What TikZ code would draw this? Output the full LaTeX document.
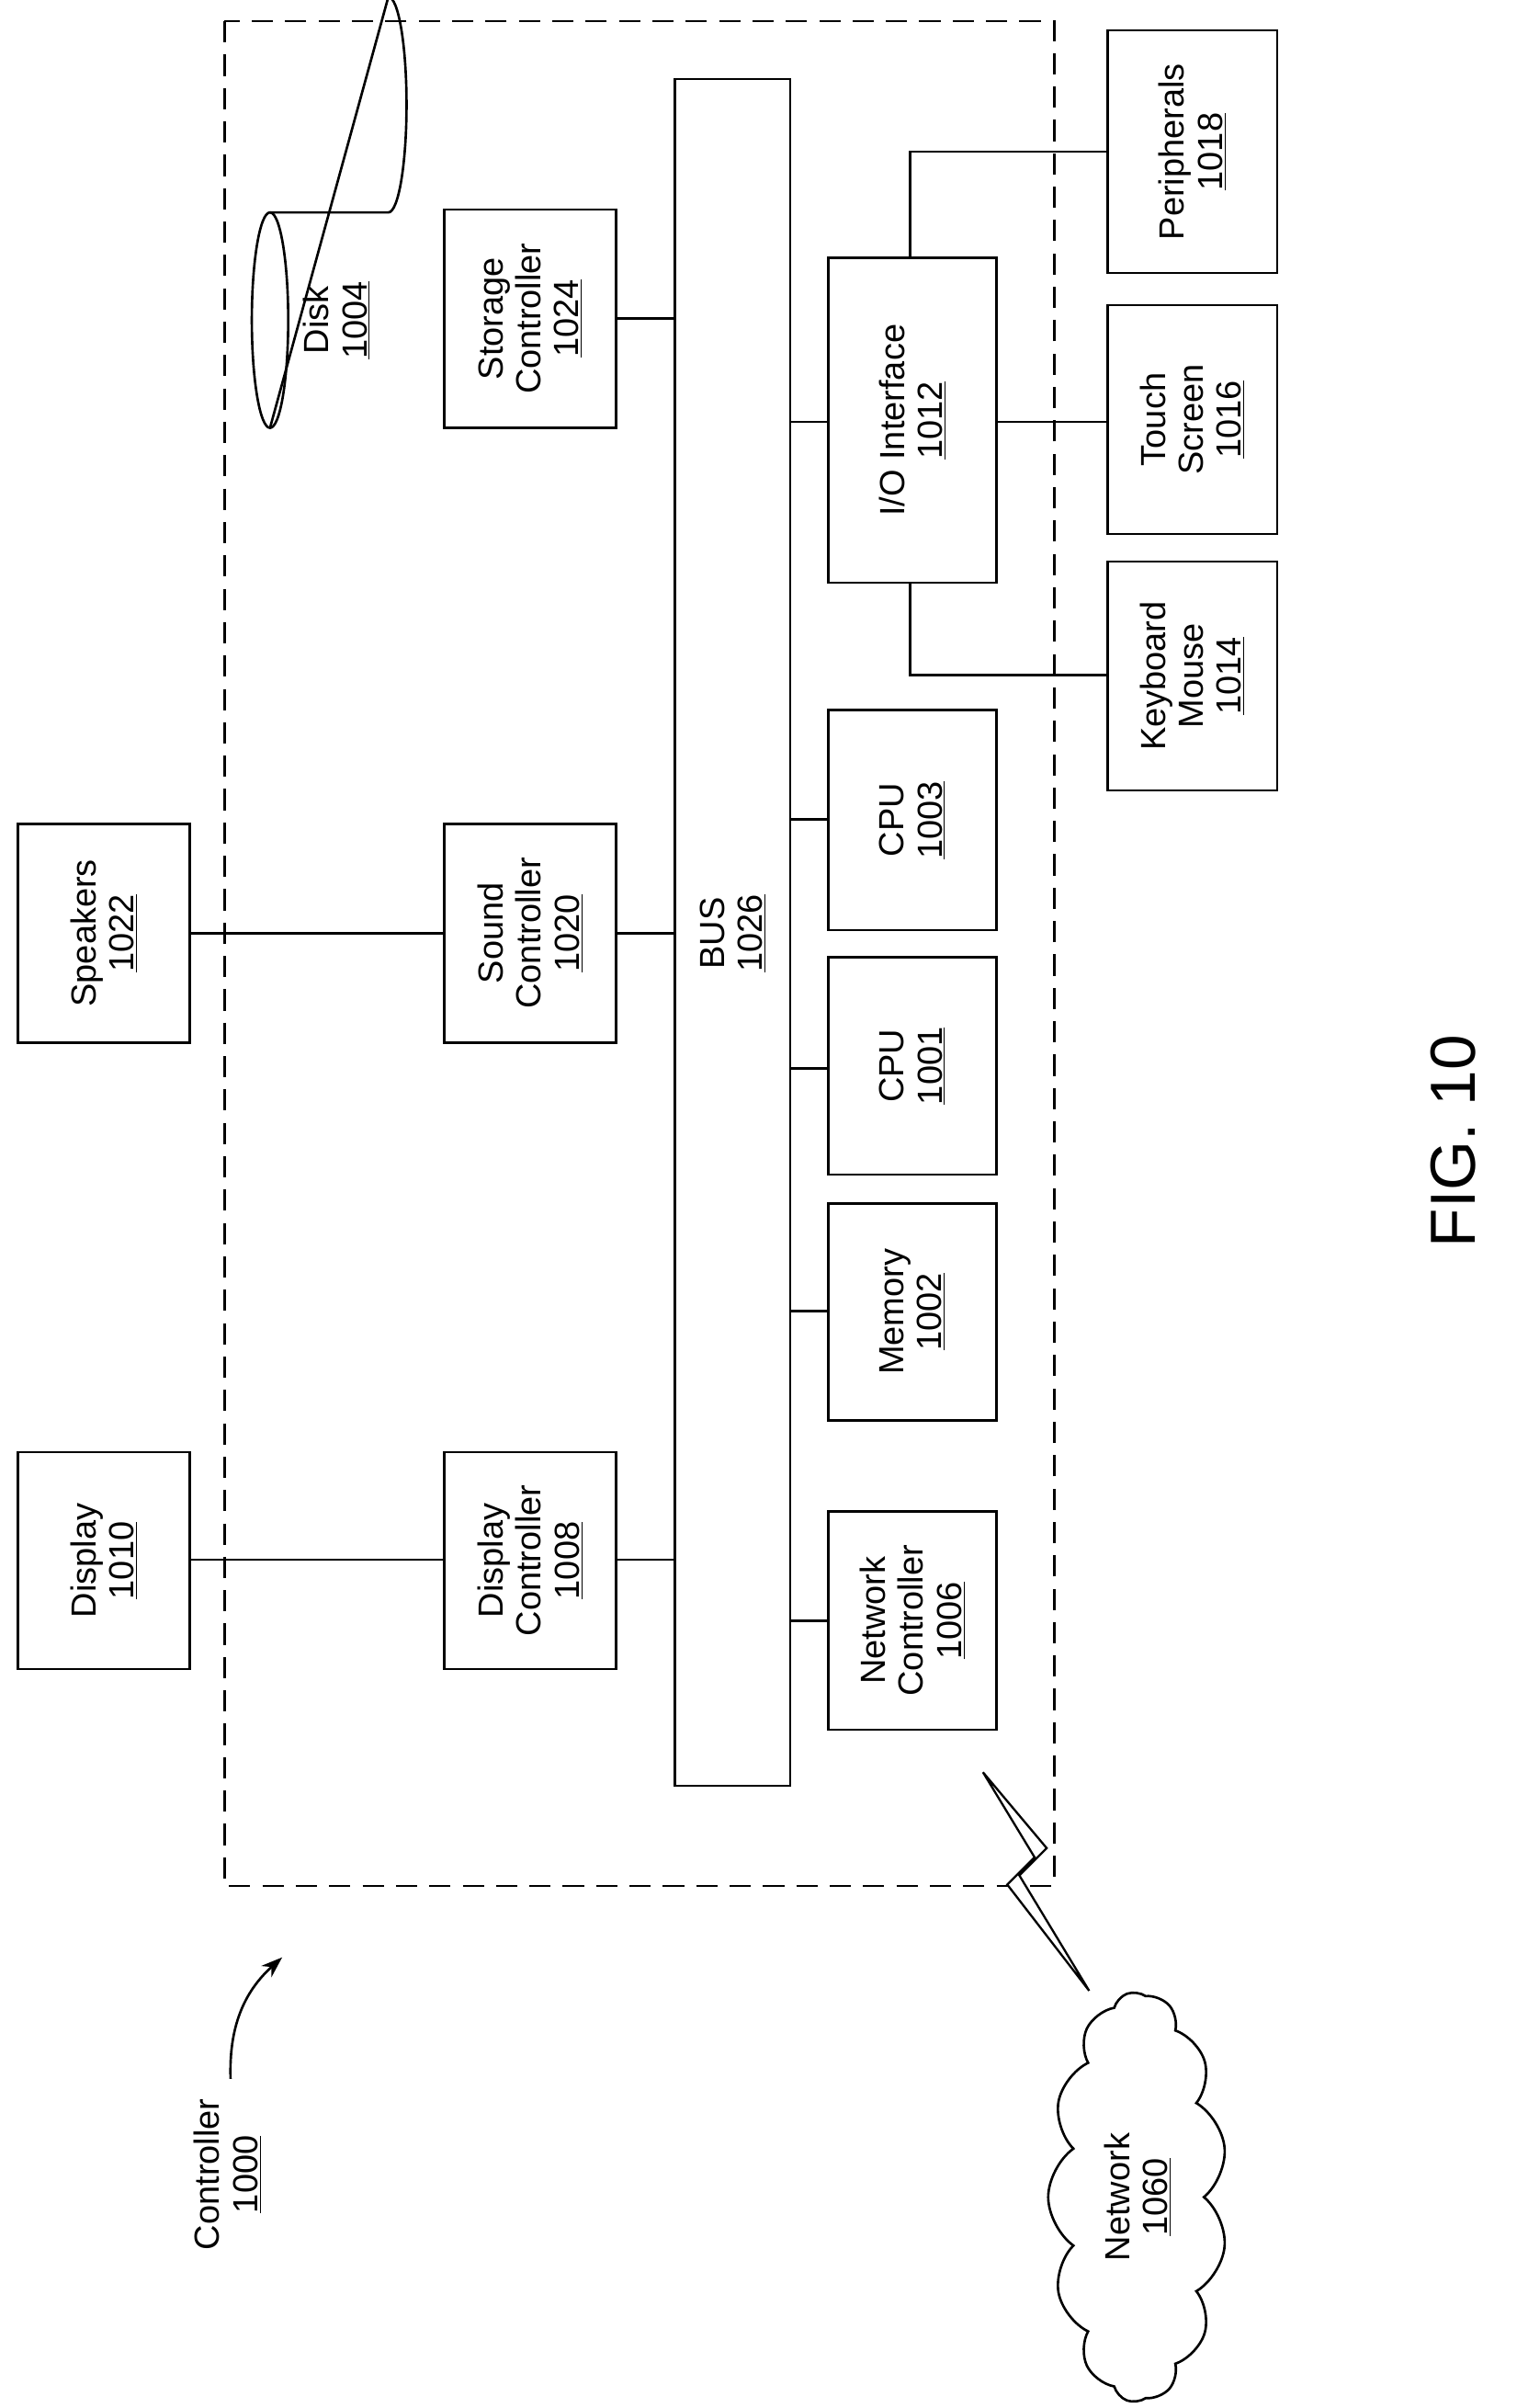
\documentclass[tikz,border=0pt]{standalone}
\usepackage{fontspec}
\setmainfont{Liberation Sans}
\usetikzlibrary{shapes.symbols,arrows.meta}
\begin{document}
\begin{tikzpicture}[x=1pt,y=-1pt,line width=1.6pt,
  box/.style={draw,rectangle,inner sep=0pt},
  lbl/.style={rotate=90,align=center,font=\fontsize{23}{25}\selectfont}]
\useasboundingbox (0,0) rectangle (1000,1587);
\draw[dash pattern=on 14pt off 8pt] (148,14) rectangle (695,1243);
% bus
\draw (445,52) rectangle (521,1177);
\node[lbl] (bus) at (483,615) {BUS\\\underline{1026}};
\coordinate (busL) at (445,0); \coordinate (busR) at (521,0);
% generic boxes
\newcommand{\bx}[6]{\draw (#1,#2) rectangle (#3,#4); \node[lbl] (#5) at ({(#1+#3)/2},{(#2+#4)/2}) {#6};}
\bx{293}{138}{406}{282}{stc}{Storage\\Controller\\\underline{1024}}
\bx{293}{543}{406}{687}{snc}{Sound\\Controller\\\underline{1020}}
\bx{12}{543}{125}{687}{spk}{Speakers\\\underline{1022}}
\bx{293}{957}{406}{1100}{dc}{Display\\Controller\\\underline{1008}}
\bx{12}{957}{125}{1100}{disp}{Display\\\underline{1010}}
\bx{546}{170}{657}{384}{io}{I/O Interface\\\underline{1012}}
\bx{730}{20}{842}{180}{per}{Peripherals\\\underline{1018}}
\bx{730}{201}{842}{352}{ts}{Touch\\Screen\\\underline{1016}}
\bx{730}{370}{842}{521}{km}{Keyboard\\Mouse\\\underline{1014}}
\bx{546}{468}{657}{613}{cpuc}{CPU\\\underline{1003}}
\bx{546}{631}{657}{774}{cpua}{CPU\\\underline{1001}}
\bx{546}{793}{657}{936}{mem}{Memory\\\underline{1002}}
\bx{546}{996}{657}{1140}{nc}{Network\\Controller\\\underline{1006}}
% disk
\draw (178,140) -- (256,140) arc[start angle=-90,end angle=90,x radius=12,y radius=-71] -- (178,282);
\draw (178,211) ellipse [x radius=12, y radius=71];
\node[lbl] (disk) at (222,211) {Disk\\\underline{1004}};
% connections
\draw (406,210) -- (445,210);
\draw (125,615) -- (293,615) (406,615) -- (445,615);
\draw (125,1028) -- (293,1028) (406,1028) -- (445,1028);
\draw (521,278) -- (546,278) (657,278) -- (730,278);
\draw (600,170) -- (600,100) -- (730,100);
\draw (600,384) -- (600,445) -- (730,445);
\draw (521,540) -- (546,540) (521,704) -- (546,704) (521,864) -- (546,864) (521,1068) -- (546,1068);
% lightning
\draw[line width=1.4pt,fill=white] (648,1168) -- (690,1218) -- (672,1236) -- (718,1312) -- (664,1242) -- (682,1224) -- cycle;
% cloud
\node[draw,cloud,cloud puffs=13,cloud puff arc=110,aspect=2.2,minimum width=270,minimum height=118,rotate=90,fill=white] (net) at (750,1448) {};
\node[lbl] at (750,1448) {Network\\\underline{1060}};
% controller label
\node[lbl] (ctl) at (150,1433) {Controller\\\underline{1000}};
\draw[-{Stealth[length=14pt,width=10pt]}] (152,1370) to[bend left=25] (186,1290);
\node[rotate=90,font=\fontsize{42}{44}\selectfont] (fig) at (958,752) {FIG. 10};
\end{tikzpicture}
\end{document}
